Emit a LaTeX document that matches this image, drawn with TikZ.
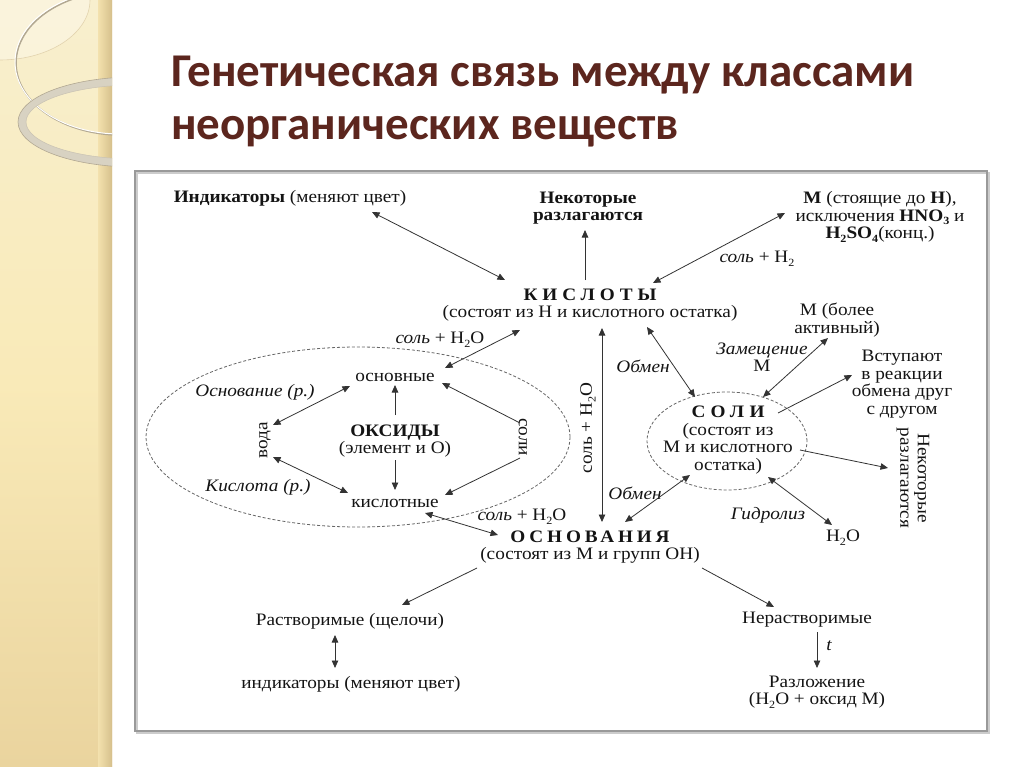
\documentclass[tikz,border=0pt]{standalone}
\usepackage{fontspec}
\setmainfont{Liberation Serif}[FakeStretch=1.1]
\newfontfamily\titlefont{Carlito}
\usetikzlibrary{arrows.meta,shapes.geometric,calc}
\definecolor{titlecol}{RGB}{92,38,30}
\definecolor{stripTop}{RGB}{248,239,206}
\definecolor{stripMid}{RGB}{249,234,184}
\definecolor{stripBot}{RGB}{234,212,158}
\definecolor{stripEdge}{RGB}{214,192,140}
\definecolor{ringcol}{RGB}{216,210,194}
\definecolor{ringedge}{RGB}{178,168,146}
\newcommand\spaced[2]{{\addfontfeature{LetterSpace=#1}#2}}
\newcommand\sub[1]{\raisebox{-0.45ex}{\fontsize{11}{11}\selectfont #1}}
\begin{document}
\begin{tikzpicture}[x=1pt,y=-1pt,
  font=\fontsize{17.5}{17.5}\selectfont,
  lbl/.style={inner sep=1pt, align=center, text=black!92},
  itl/.style={lbl, font=\fontsize{17.5}{17.5}\selectfont\itshape},
  tip/.tip={Triangle[length=7.5pt,width=6.5pt]},
  arr/.style={draw=black!80, line width=0.8pt, -tip},
  biarr/.style={draw=black!80, line width=0.8pt, tip-tip},
  ring/.style={ellipse, draw=black!60, dash pattern=on 3pt off 2pt, line width=0.8pt, inner sep=0pt}]
\useasboundingbox (0,0) rectangle (1024,767);
\fill[white] (0,0) rectangle (1024,767);
% left decorative strip
\shade[top color=stripTop, bottom color=stripBot, middle color=stripMid] (0,0) rectangle (112,767);
\shade[left color=stripMid!60!stripBot, right color=stripEdge] (98,0) rectangle (112,767);
\begin{scope}
  \clip (0,0) rectangle (112,767);
  \fill[white, opacity=0.3] (0,0) ellipse [x radius=90, y radius=60];
  \draw[stripEdge!70, line width=0.6pt] (0,0) ellipse [x radius=90, y radius=60];
  \draw[ringedge, line width=1.6pt] (121,63) ellipse [x radius=105, y radius=72];
  \draw[white, line width=1pt] (120,62) ellipse [x radius=105, y radius=72];
  \fill[ringcol, even odd rule] (135,122) ellipse [x radius=117, y radius=45] (135,122) ellipse [x radius=109, y radius=37];
  \draw[ringedge, line width=0.6pt] (135,122) ellipse [x radius=117, y radius=45];
  \draw[ringedge!70, line width=0.5pt] (135,122) ellipse [x radius=109, y radius=37];
\end{scope}
% title
\node[anchor=base west, inner sep=0pt, text=titlecol, font=\titlefont\bfseries\fontsize{47}{47}\selectfont] (title1) at (171,87) {Генетическая связь между классами};
\node[anchor=base west, inner sep=0pt, text=titlecol, font=\titlefont\bfseries\fontsize{47}{47}\selectfont] (title2) at (171,140) {неорганических веществ};
% frame
\draw[black!20, line width=2pt] (137,173) rectangle (989,733);
\draw[black!40, line width=2pt] (135,171) rectangle (987,731);
% dashed rings
\node[ring, minimum width=424pt, minimum height=180pt] (oxring) at (358,437) {};
\node[ring, minimum width=160pt, minimum height=98pt] (saltring) at (727,441) {};
% nodes
\node[lbl] (ind) at (290,198) {{\bfseries Индикаторы} (меняют цвет)};
\node[lbl, font=\fontsize{17.5}{17.5}\selectfont\bfseries] (nekt) at (588,208) {Некоторые\\разлагаются};
\node[lbl] (mst) at (880,217) {{\bfseries M} (стоящие до {\bfseries H}),\\исключения {\bfseries HNO\sub{3}} и\\{\bfseries H\sub{2}SO\sub{4}}(конц.)};
\node[lbl] (sh2) at (757,259) {\textit{соль} + H\sub{2}};
\node[lbl] (kisl) at (590,305) {{\bfseries\spaced{28}{КИСЛОТЫ}}\\(состоят из H и кислотного остатка)};
\node[lbl] (sw1) at (440,340) {\textit{соль} + H\sub{2}O};
\node[lbl] (osn) at (395,377) {основные};
\node[itl] (osnR) at (255,392) {Основание (р.)};
\node[lbl, rotate=90] (voda) at (265,440) {вода};
\node[lbl] (oks) at (395,441) {{\bfseries ОКСИДЫ}\\(элемент и O)};
\node[lbl, rotate=-90] (soli) at (523,437) {соли};
\node[itl] (kisR) at (258,487) {Кислота (р.)};
\node[lbl] (kislot) at (395,503) {кислотные};
\node[lbl] (sw2) at (522,517) {\textit{соль} + H\sub{2}O};
\node[lbl, rotate=90] (vert) at (588,428) {соль + H\sub{2}O};
\node[itl] (obm1) at (643,366) {Обмен};
\node[lbl] (mbol) at (837,320) {M (более\\активный)};
\node[lbl] (zam) at (762,357) {\textit{Замещение}\\M};
\node[lbl] (vst) at (902,384) {Вступают\\в реакции\\обмена друг\\с другом};
\node[lbl] (salt) at (728,440) {{\bfseries\spaced{30}{СОЛИ}}\\(состоят из\\M и кислотного\\остатка)};
\node[lbl, rotate=-90] (nekR) at (913,478) {Некоторые\\разлагаются};
\node[itl] (obm2) at (635,493) {Обмен};
\node[itl] (gidr) at (768,515) {Гидролиз};
\node[lbl] (h2o) at (843,538) {H\sub{2}O};
\node[lbl] (osnov) at (590,547) {{\bfseries\spaced{22}{ОСНОВАНИЯ}}\\(состоят из M и групп OH)};
\node[lbl] (rast) at (350,621) {Растворимые (щелочи)};
\node[lbl] (ind2) at (351,684) {индикаторы (меняют цвет)};
\node[lbl] (nerast) at (807,620) {Нерастворимые};
\node[itl] (tt) at (829,646) {t};
\node[lbl] (razl) at (817,692) {Разложение\\(H\sub{2}O + оксид M)};
% connectors
\draw[biarr] ($(ind)+(82,14)$) -- ($(kisl)+(-85,-25)$);
\draw[arr] ($(kisl)+(-5,-25)$) -- ($(nekt)+(-3,22)$);
\draw[biarr] ($(kisl)+(63,-22)$) -- ($(mst)+(-95,-4)$);
\draw[biarr] ($(kisl)+(-70,25)$) -- ($(osn)+(50,-9)$);
\draw[arr] ($(oks)+(0,-26)$) -- ($(osn)+(0,8)$);
\draw[arr] ($(oks)+(0,19)$) -- ($(kislot)+(0,-13)$);
\draw[biarr] ($(osn)+(-45,9)$) -- ($(voda)+(8,-15)$);
\draw[biarr] ($(voda)+(8,17)$) -- ($(kislot)+(-47,-10)$);
\draw[arr] ($(soli)+(-3,-14)$) -- ($(osn)+(47,6)$);
\draw[arr] ($(soli)+(-3,21)$) -- ($(kislot)+(50,-8)$);
\draw[biarr] ($(kislot)+(30,10)$) -- ($(osnov)+(-92,-12)$);
\draw[biarr] ($(kisl)+(12,23)$) -- ($(osnov)+(12,-25)$);
\draw[biarr] ($(kisl)+(57,22)$) -- ($(salt)+(-33,-43)$);
\draw[biarr] ($(salt)+(35,-43)$) -- ($(mbol)+(-9,18)$);
\draw[arr] ($(salt)+(50,-27)$) -- ($(vst)+(-50,-9)$);
\draw[arr] ($(salt)+(72,10)$) -- ($(nekR)+(-25,-10)$);
\draw[biarr] ($(salt)+(-38,35)$) -- ($(osnov)+(35,-25)$);
\draw[biarr] ($(salt)+(40,37)$) -- ($(h2o)+(-11,-13)$);
\draw[arr] ($(osnov)+(-113,21)$) -- ($(rast)+(52,-16)$);
\draw[arr] ($(osnov)+(112,21)$) -- ($(nerast)+(-33,-13)$);
\draw[biarr] ($(rast)+(-15,14)$) -- ($(ind2)+(-16,-16)$);
\draw[arr] ($(nerast)+(10,12)$) -- ($(razl)+(0,-24)$);
\end{tikzpicture}
\end{document}
